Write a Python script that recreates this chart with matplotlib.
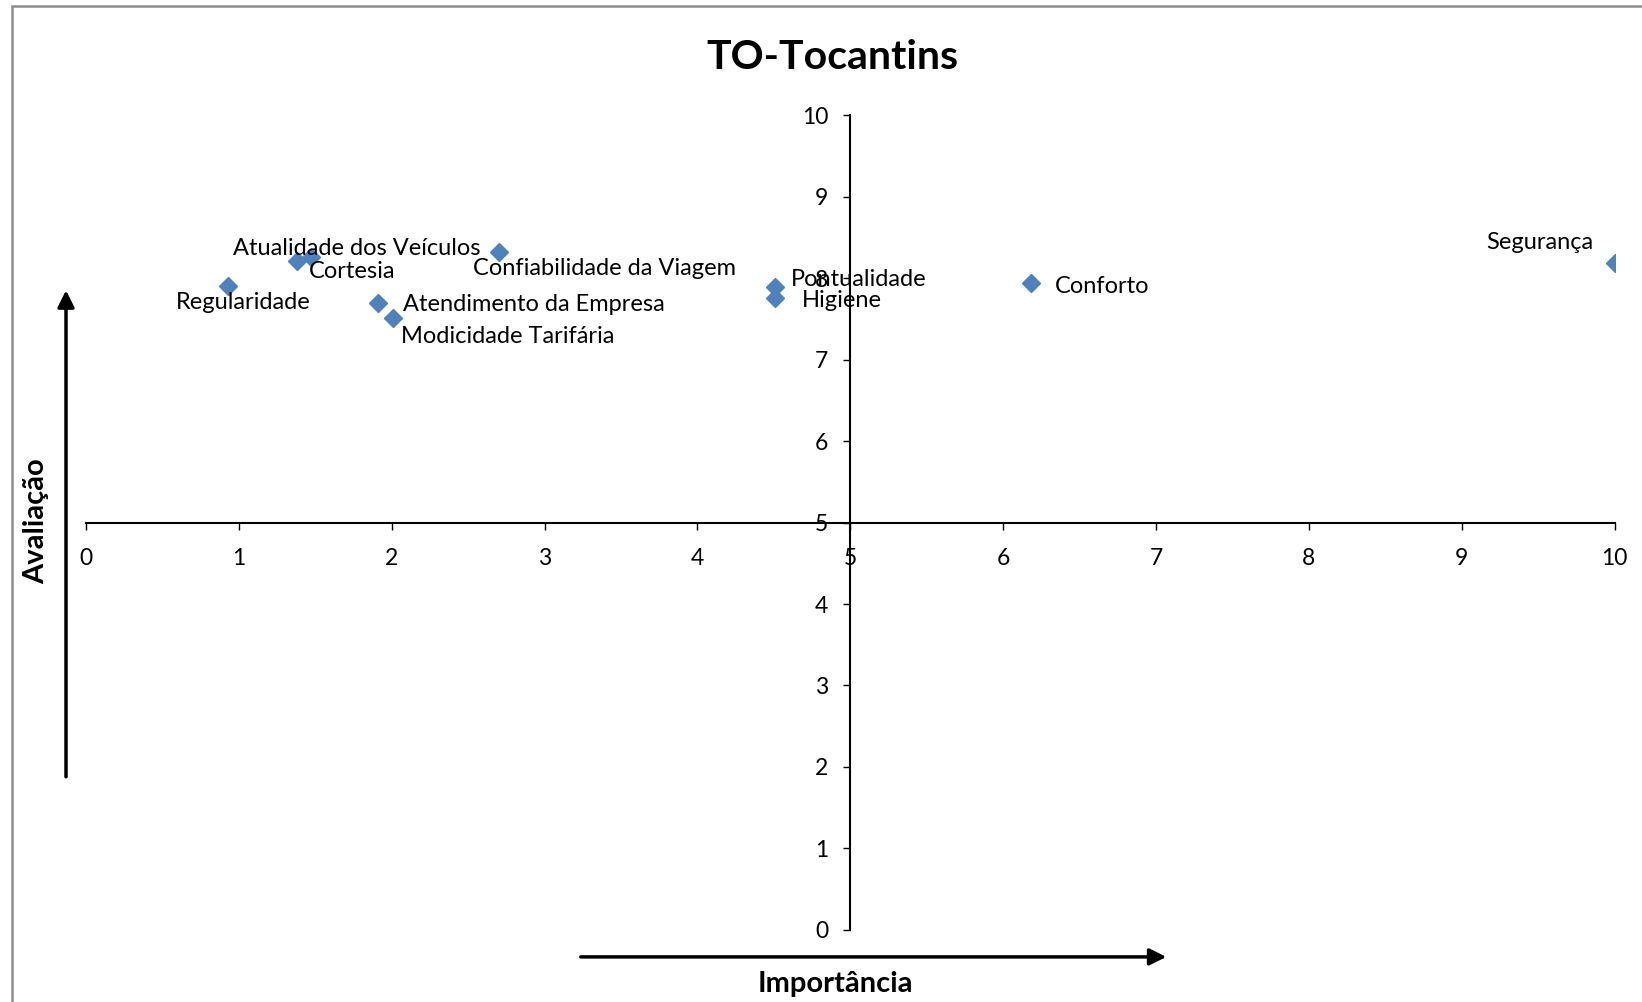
import matplotlib
matplotlib.use("Agg")
import matplotlib.pyplot as plt
from matplotlib.patches import Rectangle

plt.rcParams['font.family'] = ['Lato', 'DejaVu Sans']

# data
names = ["Regularidade", "Atualidade dos Veículos", "Cortesia", "Confiabilidade da Viagem",
         "Atendimento da Empresa", "Modicidade Tarifária", "Pontualidade", "Higiene",
         "Conforto", "Segurança"]
importancia = [0.93, 1.38, 1.47, 2.70, 1.91, 2.01, 4.51, 4.51, 6.18, 10.0]
avaliacao = [7.90, 8.21, 8.26, 8.32, 7.70, 7.51, 7.89, 7.76, 7.94, 8.19]
ticks = list(range(0, 11))

# label offsets in pixels (dx, dy, ha)
label_pos = [(-52, -16, 'left'), (-64, 13, 'left'), (-2, -15, 'left'), (-26, -16, 'left'),
             (25, -2, 'left'), (8, -18, 'left'), (15, 8, 'left'), (26, -3, 'left'),
             (24, -3, 'left'), (-21, 20, 'right')]

fig = plt.figure(figsize=(16.42, 10.02), dpi=100)
ax = fig.add_axes([0.0523, 0.0720, 0.9311, 0.8130])

ax.plot(importancia, avaliacao, linestyle='none', marker='D', markersize=9,
        color='#4F81BD', markeredgecolor='#4F81BD')
for n, x, y, (dx, dy, ha) in zip(names, importancia, avaliacao, label_pos):
    ax.annotate(n, (x, y), xytext=(dx, dy), textcoords='offset pixels',
                ha=ha, va='center', fontsize=17)

ax.set_xlim(0, 10)
ax.set_ylim(0, 10)
ax.set_xticks(ticks)
ax.set_yticks(ticks)
ax.spines['left'].set_position(('data', 5))
ax.spines['bottom'].set_position(('data', 5))
ax.spines['top'].set_visible(False)
ax.spines['right'].set_visible(False)
for s in ('left', 'bottom'):
    ax.spines[s].set_linewidth(1.5)
ax.tick_params(axis='both', direction='out', length=5, width=1, labelsize=16.5)
ax.tick_params(axis='x', pad=13)
ax.tick_params(axis='y', pad=11)
ax.patch.set_visible(False)

fig.text(0.507, 0.943, "TO-Tocantins", ha='center', va='center', fontsize=29.5, fontweight='bold')
fig.text(0.0223, 0.480, "Avaliação", ha='center', va='center', rotation=90,
         fontsize=21, fontweight='bold')
fig.text(0.5085, 0.018, "Importância", ha='center', va='center', fontsize=21, fontweight='bold')

# arrows
ax.annotate('', xy=(0.0402, 0.713), xytext=(0.0402, 0.222), xycoords='figure fraction',
            arrowprops=dict(arrowstyle='-|>', lw=2.5, color='black', mutation_scale=25))
ax.annotate('', xy=(0.712, 0.045), xytext=(0.352, 0.045), xycoords='figure fraction',
            arrowprops=dict(arrowstyle='-|>', lw=2.5, color='black', mutation_scale=25))

# chart frame
fig.patches.append(Rectangle((0.0072, -0.05), 1.1, 1.044, transform=fig.transFigure,
                             fill=False, edgecolor='#8c8c8c', linewidth=1.8))

fig.savefig("out.png", dpi=100)
